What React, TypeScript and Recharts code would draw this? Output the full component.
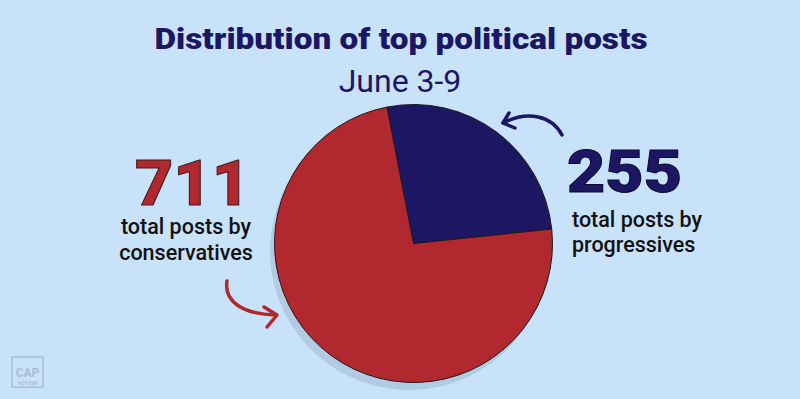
import React from 'react';
import { PieChart, Pie, Cell, Customized } from 'recharts';

const categories = ['progressives', 'conservatives'];
const values = [255, 711];
const colors = ['#1c1663', '#b1282e'];
const titleText = 'Distribution of top political posts';
const subtitleText = 'June 3-9';

const data = categories.map((name, i) => ({ name, value: values[i] }));

const BG = '#c8e2fa';
const NAVY = '#1c1663';
const RED = '#b1282e';

const Decorations = () => (
  <g>
    <text x={401} y={49} textAnchor="middle" fontFamily="Roboto" fontWeight={900} fontSize={29} fill={NAVY} textLength={493} lengthAdjust="spacingAndGlyphs">{titleText}</text>
    <text x={400} y={92} textAnchor="middle" fontFamily="Roboto" fontWeight={400} fontSize={32} fill={NAVY}>{subtitleText}</text>

    <text x={192.5} y={205} textAnchor="middle" fontFamily="Roboto" fontWeight={900} fontSize={63} fill={RED} stroke="#3a1a1a" strokeWidth={1} textLength={115} lengthAdjust="spacingAndGlyphs">{values[1]}</text>
    <text x={186} y={234} textAnchor="middle" fontFamily="Roboto" fontWeight={500} fontSize={21.5} fill="#111">total posts by</text>
    <text x={186} y={260} textAnchor="middle" fontFamily="Roboto" fontWeight={500} fontSize={21.5} fill="#111">{categories[1]}</text>

    <text x={624.5} y={192} textAnchor="middle" fontFamily="Roboto" fontWeight={900} fontSize={60} fill={NAVY} stroke="#0c0a30" strokeWidth={1} textLength={115} lengthAdjust="spacingAndGlyphs">{values[0]}</text>
    <text x={572} y={227} textAnchor="start" fontFamily="Roboto" fontWeight={500} fontSize={21.5} fill="#111">total posts by</text>
    <text x={572} y={252} textAnchor="start" fontFamily="Roboto" fontWeight={500} fontSize={21.5} fill="#111">{categories[0]}</text>

    <path d="M562,135 C552,116 528,110 503,123" fill="none" stroke={NAVY} strokeWidth={3.5} strokeLinecap="round" />
    <path d="M509,113 L503,123 L515,128" fill="none" stroke={NAVY} strokeWidth={3.5} strokeLinecap="round" strokeLinejoin="round" />

    <path d="M227,281 C224,300 240,314 276,315" fill="none" stroke={RED} strokeWidth={3.5} strokeLinecap="round" />
    <path d="M264,307 L277,315 L267,327" fill="none" stroke={RED} strokeWidth={3.5} strokeLinecap="round" strokeLinejoin="round" />

    <rect x={12} y={357} width={31} height={30} fill="none" stroke="#a8bdd0" strokeWidth={1.5} />
    <text x={27.5} y={377} textAnchor="middle" fontFamily="Roboto" fontWeight={700} fontSize={12} fill="#a8bdd0">CAP</text>
    <text x={27.5} y={384.5} textAnchor="middle" fontFamily="Roboto" fontWeight={700} fontSize={5.5} fill="#a8bdd0">ACTION</text>
  </g>
);

export default function App() {
  return (
    <div style={{ position: 'absolute', left: 0, top: 0, width: 800, height: 399, background: BG }}>
      <PieChart width={800} height={399} margin={{ top: 0, right: 0, bottom: 0, left: 0 }}>
        <Pie
          data={data}
          dataKey="value"
          cx={409}
          cy={251}
          outerRadius={139}
          startAngle={101}
          endAngle={-259}
          stroke="none"
          fill="#b2cbe3"
          isAnimationActive={false}
        >
          {data.map((d, i) => (
            <Cell key={`s-${i}`} fill="#b2cbe3" />
          ))}
        </Pie>
        <Pie
          data={data}
          dataKey="value"
          cx={413.5}
          cy={243.5}
          outerRadius={139}
          startAngle={101}
          endAngle={-259}
          stroke="#1a1a1a"
          strokeWidth={1}
          isAnimationActive={false}
        >
          {data.map((d, i) => (
            <Cell key={`c-${i}`} fill={colors[i]} />
          ))}
        </Pie>
        <Customized component={Decorations} />
      </PieChart>
    </div>
  );
}
